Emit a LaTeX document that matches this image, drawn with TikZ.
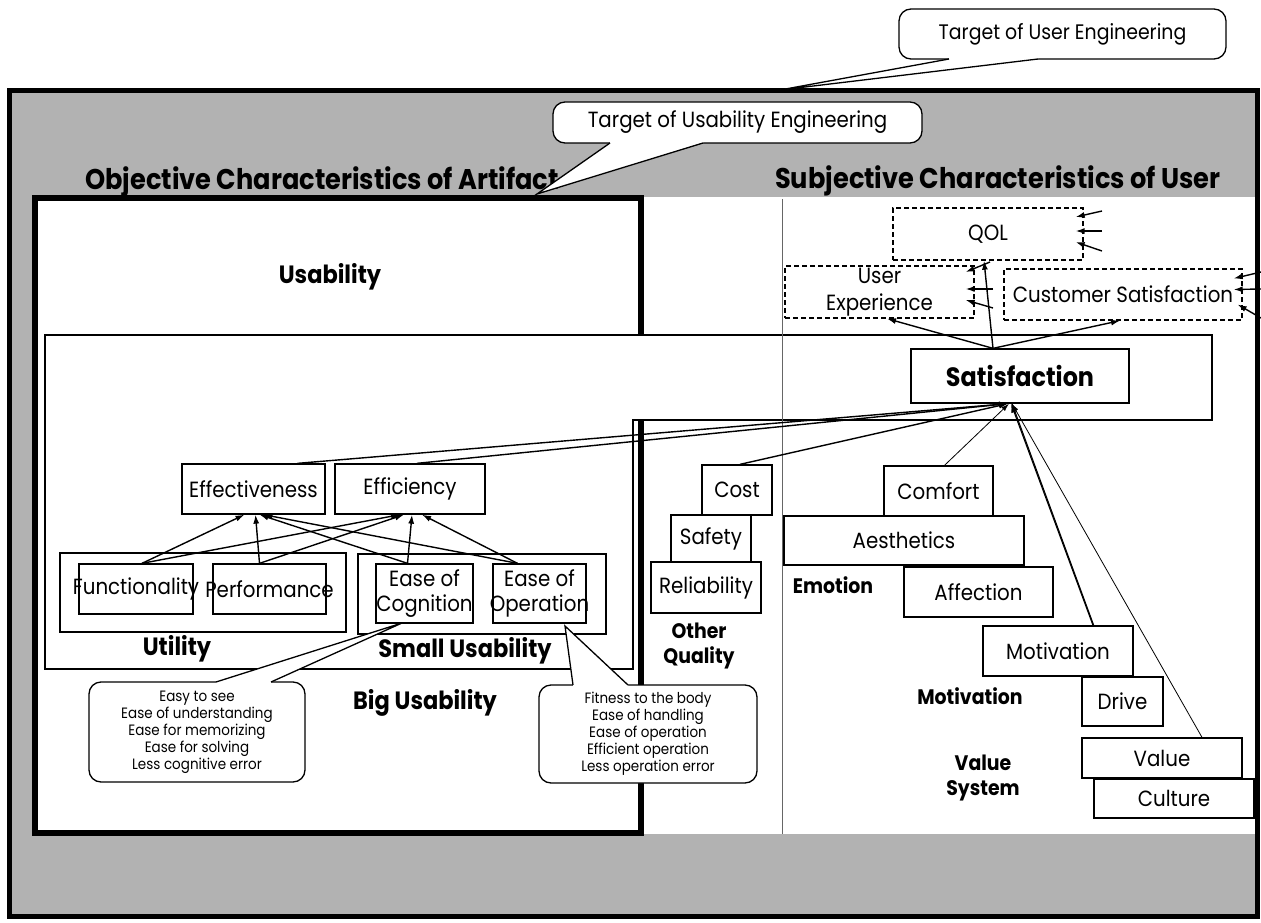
\documentclass[tikz,border=0pt]{standalone}
\usepackage{fontspec}
\setmainfont{Poppins}[FakeStretch=0.9]
\usetikzlibrary{arrows.meta,calc}
\newcommand{\fsz}[2]{\fontsize{#1}{#2}\selectfont}
\begin{document}
\begin{tikzpicture}[x=1pt,y=-1pt,
  box/.style={draw, line width=1.3pt, fill=white, inner sep=0pt, align=center, font=\fsz{22}{25}},
  dbox/.style={box, dash pattern=on 5pt off 3pt},
  lbl/.style={inner sep=0pt, align=center, font=\bfseries\fsz{25}{28}},
  slbl/.style={inner sep=0pt, align=center, font=\bfseries\fsz{21}{25}},
  ttl/.style={inner sep=0pt, anchor=west, font=\bfseries\fsz{28.5}{32}},
  arr/.style={-{Latex[length=9pt,width=6pt]}, line width=1.4pt},
  tarr/.style={-{Latex[length=8pt,width=5pt]}, line width=0.8pt},
  callout/.style={draw, fill=white, rounded corners=12pt, line width=1.3pt, inner sep=0pt, align=center},
  ptr/.style={line width=1.3pt}
]
\useasboundingbox (0,0) rectangle (1261,923);
% background frames
\draw[line width=5pt, fill=black!30] (9,91) rectangle (1257,916);
\fill[white] (33,197) rectangle (1255,834);
\draw[line width=6pt] (35,198) rectangle (641,833);
\draw[line width=1.2pt, fill=white] (45,335) -- (1212,335) -- (1212,420) -- (633,420) -- (633,669) -- (45,669) -- cycle;
\draw[black!60, line width=0.8pt] (782,199) -- (782,834);

% titles
\node[ttl] (objT) at (85,182) {Objective Characteristics of Artifact};
\node[ttl] (subT) at (775,181) {Subjective Characteristics of User};

% left labels
\node[lbl] (usab) at (330,277) {Usability};
\node[lbl] (util) at (177,649) {Utility};
\node[lbl] (smallU) at (465,651) {Small Usability};
\node[lbl] (bigU) at (425,703) {Big Usability};
\node[slbl] (otherQ) at (699,646) {Other\\Quality};
\node[slbl] (emoL) at (833,585) {Emotion};
\node[slbl] (motL) at (970,696) {Motivation};
\node[slbl] (valL) at (983,778) {Value\\System};

% group boxes
\node[box, minimum width=286, minimum height=79] (utilBox) at (203,592.5) {};
\node[box, minimum width=248, minimum height=80] (smallBox) at (482,594) {};

% left nodes
\node[box, minimum width=143, minimum height=50] (eff) at (253.5,489) {Effectiveness};
\node[box, minimum width=150, minimum height=50] (effi) at (410,489) {Efficiency};
\node[box, minimum width=114, minimum height=50, label={[font=\fsz{22}{25}]center:Functionality}] (func) at (136,589) {};
\node[box, minimum width=113, minimum height=50, label={[font=\fsz{22}{25}]center:Performance}] (perf) at (269.5,589) {};
\node[box, minimum width=97, minimum height=59, label={[font=\fsz{22}{25}, align=center]center:Ease of\\Cognition}] (cog) at (424.5,593.5) {};
\node[box, minimum width=93, minimum height=59, label={[font=\fsz{22}{25}, align=center]center:Ease of\\Operation}] (oper) at (539.5,593.5) {};

% other quality
\node[box, minimum width=70, minimum height=50] (cost) at (737,490) {Cost};
\node[box, minimum width=80, minimum height=47] (safe) at (711,538.5) {Safety};
\node[box, minimum width=110, minimum height=51] (rel) at (706,587.5) {Reliability};

% subjective side
\node[dbox, minimum width=190, minimum height=52] (qol) at (988,234) {QOL};
\node[dbox, minimum width=189, minimum height=52, font=\fsz{22}{27}] (ux) at (879.5,292) {User\\Experience};
\node[dbox, minimum width=238, minimum height=51] (cs) at (1123,294.5) {Customer Satisfaction};
\node[box, minimum width=218, minimum height=54, font=\bfseries\fsz{26.5}{30}] (sat) at (1020,376) {Satisfaction};

\node[box, minimum width=109, minimum height=50] (comf) at (938.5,491) {Comfort};
\node[box, minimum width=240, minimum height=49] (aest) at (904,540.5) {Aesthetics};
\node[box, minimum width=149, minimum height=50] (affe) at (978.5,592) {Affection};
\node[box, minimum width=81, minimum height=49] (drive) at (1122.5,701.5) {Drive};
\draw[line width=1.1pt] ([xshift=-10pt]drive.north) -- ([xshift=-8pt]sat.south);
\node[box, minimum width=150, minimum height=50] (motiv) at (1058,651) {Motivation};
\node[box, minimum width=160, minimum height=39] (cult) at (1174,798.5) {Culture};
\node[box, minimum width=160, minimum height=40] (val) at (1162,758) {Value};

% arrows among left nodes
\draw[arr] ([xshift=6pt]func.north) -- ([xshift=-9pt]eff.south);
\draw[arr] ([xshift=6pt]func.north) -- ([xshift=-10pt]effi.south);
\draw[arr] ([xshift=-10pt]perf.north) -- ([xshift=2pt]eff.south);
\draw[arr] ([xshift=-10pt]perf.north) -- ([xshift=-6pt]effi.south);
\draw[arr] ([xshift=-17pt]cog.north) -- ([xshift=6pt]eff.south);
\draw[arr] ([xshift=-17pt]cog.north) -- ([xshift=2pt]effi.south);
\draw[arr] ([xshift=-22pt]oper.north) -- ([xshift=10pt]eff.south);
\draw[arr] ([xshift=-22pt]oper.north) -- ([xshift=12pt]effi.south);

% arrows to satisfaction
\draw[arr] ([xshift=44pt]eff.north) -- ([xshift=-12pt]sat.south);
\draw[arr] ([xshift=7pt]effi.north) -- ([xshift=-12pt]sat.south);
\draw[arr] ([xshift=3pt]cost.north) -- ([xshift=-12pt]sat.south);
\draw[tarr] ([xshift=6pt]comf.north) -- ([xshift=-11pt]sat.south);
\draw[arr, line width=1.1pt] ([xshift=35pt]motiv.north) -- ([xshift=-9pt]sat.south);
\draw[tarr] ([xshift=40pt]val.north) -- ([xshift=-8pt]sat.south);

% arrows from satisfaction
\draw[arr] ([xshift=-27pt]sat.north) -- ([xshift=7.5pt]ux.south);
\draw[arr] ([xshift=-27pt]sat.north) -- ([xshift=-4pt]qol.south);
\draw[arr] ([xshift=-27pt]sat.north) -- ([xshift=-3pt]cs.south);

% external influences
\coordinate (q1) at (1102,211); \coordinate (q2) at (1102,231); \coordinate (q3) at (1102,251);
\draw[arr] (q1) -- ([xshift=-8pt,yshift=17pt]qol.east);
\draw[arr] (q2) -- ([xshift=-8pt,yshift=3pt]qol.east);
\draw[arr] (q3) -- ([xshift=-8pt,yshift=-8pt]qol.east);
\coordinate (u1) at (990,262); \coordinate (u2) at (993,289); \coordinate (u3) at (993,308);
\draw[arr] (u1) -- ([xshift=-9pt,yshift=20pt]ux.east);
\draw[arr] (u2) -- ([xshift=-9pt,yshift=3pt]ux.east);
\draw[arr] (u3) -- ([xshift=-9pt,yshift=-8pt]ux.east);
\coordinate (c1) at (1261,272); \coordinate (c2) at (1261,289); \coordinate (c3) at (1261,318);
\draw[arr] (c1) -- ([xshift=-9pt,yshift=16pt]cs.east);
\draw[arr] (c2) -- ([xshift=-9pt,yshift=5pt]cs.east);
\draw[arr] (c3) -- ([xshift=-5pt,yshift=-10pt]cs.east);

% callouts
\node[callout, minimum width=327, minimum height=50, font=\fsz{21}{24}] (tUE) at (1062.5,34) {Target of User Engineering};
\coordinate (tUEa) at (949,59); \coordinate (tUEb) at (1038,59); \coordinate (tUEtip) at (780,90);
\fill[white] (949,56) -- (tUEa) -- (tUEtip) -- (tUEb) -- (1038,56) -- cycle;
\draw[ptr] (tUEa) -- (tUEtip) -- (tUEb);

\node[callout, minimum width=369, minimum height=41, font=\fsz{22}{24}] (tUsE) at (737.5,122.5) {Target of Usability Engineering};
\coordinate (tUsEa) at (610,143); \coordinate (tUsEb) at (703,143); \coordinate (tUsEtip) at (537,194);
\fill[white] (610,140) -- (tUsEa) -- (tUsEtip) -- (tUsEb) -- (703,140) -- cycle;
\draw[ptr] (tUsEa) -- (tUsEtip) -- (tUsEb);

\node[callout, minimum width=216, minimum height=100, font=\fsz{15}{17}] (cogC) at (197,732) {Easy to see\\Ease of understanding\\Ease for memorizing\\Ease for solving\\Less cognitive error};
\coordinate (cogCa) at (216,682); \coordinate (cogCb) at (271,682); \coordinate (cogTip) at (402,623);
\fill[white] (216,685) -- (cogCa) -- (cogTip) -- (cogCb) -- (271,685) -- cycle;
\draw[ptr] (cogCa) -- (cogTip) -- (cogCb);

\node[callout, minimum width=218, minimum height=98, font=\fsz{15}{17}] (opC) at (648,734) {Fitness to the body\\Ease of handling\\Ease of operation\\Efficient operation\\Less operation error};
\coordinate (opCa) at (573,685); \coordinate (opCb) at (628,685); \coordinate (opTip) at (565,626);
\fill[white] (573,688) -- (opCa) -- (opTip) -- (opCb) -- (628,688) -- cycle;
\draw[ptr] (opCa) -- (opTip) -- (opCb);
\end{tikzpicture}
\end{document}
